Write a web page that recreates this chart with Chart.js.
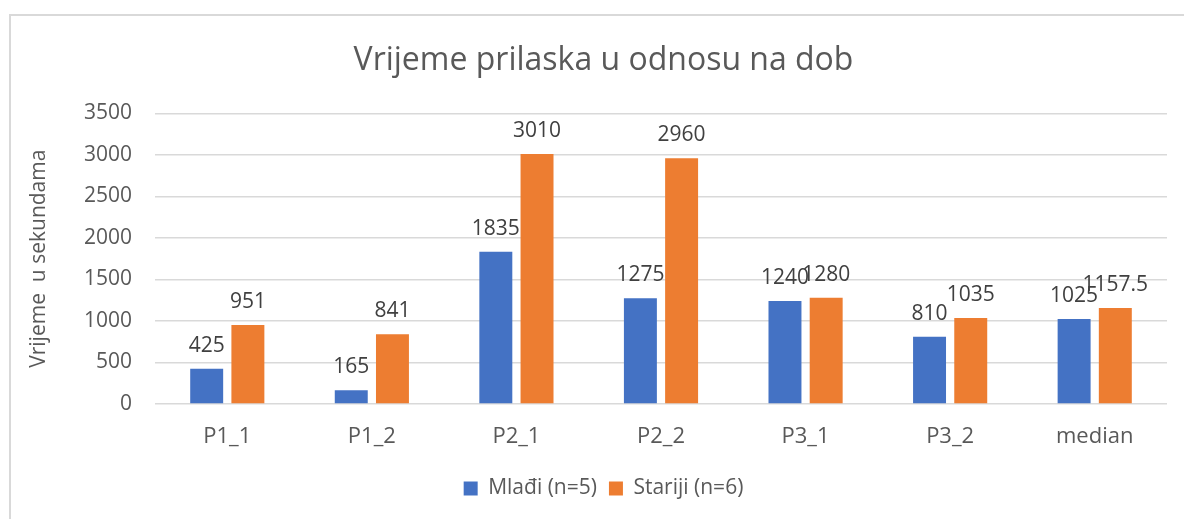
<!DOCTYPE html>
<html>
  <head>
    <title>Vrijeme prilaska</title>
    <style>
      body { margin: 0; background: #fff; overflow: hidden; }
      #wrap { position: relative; width: 1184px; height: 519px; }
      #frame {
        position: absolute; left: 9px; top: 14px;
        width: 1300px; height: 600px;
        border: 2px solid #d9d9d9; box-sizing: border-box;
      }
      #chart { position: absolute; left: 0; top: 0; }
    </style>
    <script src="https://cdn.jsdelivr.net/npm/chart.js"></script>
  </head>
  <body>
    <div id="wrap">
      <div id="frame"></div>
      <canvas id="chart" width="1184" height="519"></canvas>
    </div>

    <script>
      var categories = ["P1_1", "P1_2", "P2_1", "P2_2", "P3_1", "P3_2", "median"];
      var mladi = [425, 165, 1835, 1275, 1240, 810, 1025];
      var stariji = [951, 841, 3010, 2960, 1280, 1035, 1157.5];
      var yTicks = [0, 500, 1000, 1500, 2000, 2500, 3000, 3500];

      var FONT = "'Open Sans', 'Noto Sans', sans-serif";

      // draw the value above each bar
      var valueLabels = {
        id: "valueLabels",
        afterDatasetsDraw: function (chart) {
          var ctx = chart.ctx;
          ctx.save();
          ctx.font = "21px " + FONT;
          ctx.fillStyle = "#404040";
          ctx.textAlign = "center";
          ctx.textBaseline = "alphabetic";
          chart.data.datasets.forEach(function (ds, i) {
            chart.getDatasetMeta(i).data.forEach(function (bar, j) {
              ctx.fillText(String(ds.data[j]), bar.x, bar.y - 17);
            });
          });
          ctx.restore();
        },
      };

      var ctx = document.getElementById("chart").getContext("2d");
      var chart = new Chart(ctx, {
        type: "bar",
        data: {
          labels: categories,
          datasets: [
            {
              label: "Mlađi (n=5)",
              data: mladi,
              backgroundColor: "#4472C4",
              barPercentage: 0.8,
              categoryPercentage: 0.57,
            },
            {
              label: "Stariji (n=6)",
              data: stariji,
              backgroundColor: "#ED7D31",
              barPercentage: 0.8,
              categoryPercentage: 0.57,
            },
          ],
        },
        options: {
          responsive: false,
          animation: false,
          layout: { padding: { left: 40, right: 17, top: 0, bottom: 10 } },
          plugins: {
            title: {
              display: true,
              text: "Vrijeme prilaska u odnosu na dob",
              color: "#595959",
              font: { family: FONT, size: 32, weight: "normal" },
              padding: { top: 42, bottom: 33 },
            },
            legend: {
              position: "bottom",
              labels: {
                color: "#595959",
                font: { family: FONT, size: 21 },
                boxWidth: 14,
                boxHeight: 14,
                padding: 12,
              },
            },
            tooltip: { enabled: false },
          },
          scales: {
            x: {
              grid: { display: false },
              border: { display: false },
              ticks: {
                color: "#595959",
                font: { family: FONT, size: 22 },
                padding: 12,
              },
              afterFit: function (scale) {
                scale.height = 62;
              },
            },
            y: {
              min: 0,
              max: 3500,
              afterBuildTicks: function (scale) {
                scale.ticks = yTicks.map(function (v) { return { value: v }; });
              },
              grid: { color: "#d9d9d9", lineWidth: 1.5, drawTicks: false },
              border: { display: false },
              ticks: {
                color: "#595959",
                font: { family: FONT, size: 21 },
                padding: 23,
                callback: function (v) { return String(v); },
              },
              title: {
                display: true,
                text: "Vrijeme  u sekundama",
                color: "#595959",
                font: { family: FONT, size: 21 },
                padding: { top: -14, bottom: 0 },
              },
              afterFit: function (scale) {
                scale.width = 155 - 40;
              },
            },
          },
        },
        plugins: [valueLabels],
      });
    </script>
  </body>
</html>
